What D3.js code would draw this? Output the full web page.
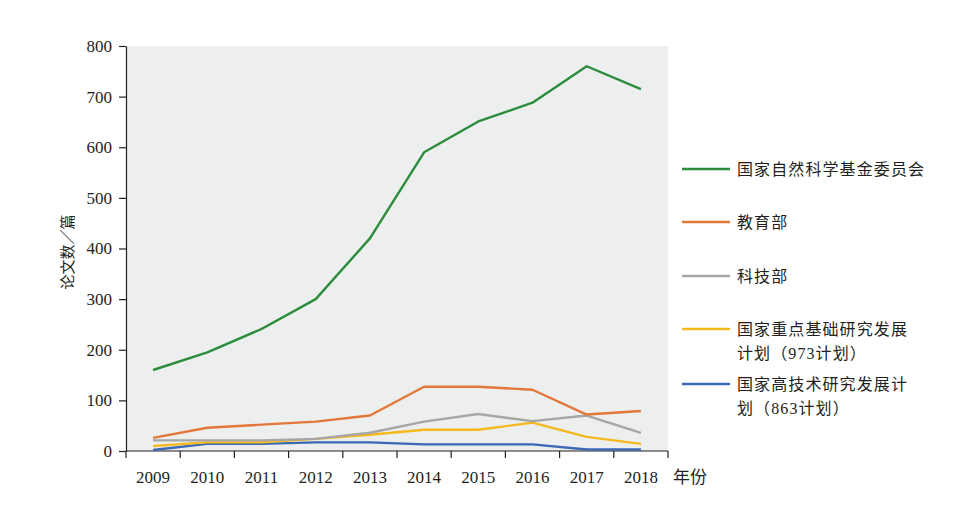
<!DOCTYPE html>
<html><head><meta charset="utf-8">
<script src="https://cdn.jsdelivr.net/npm/d3@7/dist/d3.min.js"></script>
<style>
body{margin:0;background:#fff;}
text{font-family:"Liberation Serif","Noto Sans CJK SC",serif;}
</style></head>
<body><svg id="c" width="963" height="509"></svg>
<script>
const years = ["2009","2010","2011","2012","2013","2014","2015","2016","2017","2018"];
const yTicks = [0,100,200,300,400,500,600,700,800];
const nsfc = [160,195,241,300,420,590,651,688,760,715];
const moe = [26,46,52,58,70,127,127,121,72,79];
const most = [21,21,21,24,36,58,73,59,70,36];
const p973 = [10,17,17,24,32,42,42,56,28,14];
const p863 = [2,14,14,17,17,13,13,13,3,3];
const seriesNames = ["国家自然科学基金委员会","教育部","科技部","国家重点基础研究发展\n计划（973计划）","国家高技术研究发展计\n划（863计划）"];
const seriesColors = ["#2b8c3c","#e3773a","#a6a6a6","#f4b91f","#3c69b3"];
const seriesData = [nsfc, moe, most, p973, p863];

const svg = d3.select("#c");
const L=126, R=668, T=46, B=451;
const x = d3.scaleBand().domain(years).range([L,R]);
const y = d3.scaleLinear().domain([0,800]).range([B,T]);

svg.append("rect").attr("x",L).attr("y",T).attr("width",R-L).attr("height",B-T).attr("fill","#edefee");

// y axis
const ya = svg.append("g").attr("transform",`translate(${L},0)`)
  .call(d3.axisLeft(y).tickValues(yTicks).tickSize(7).tickSizeOuter(0).tickPadding(7));
ya.selectAll("path,line").attr("stroke","#231f20").attr("stroke-width",1.2);
ya.selectAll("text").attr("font-size",17).attr("fill","#231f20").attr("font-family","Liberation Serif");

// x axis labels
const xa = svg.append("g").attr("transform",`translate(0,${B})`)
  .call(d3.axisBottom(x).tickSize(0).tickPadding(20).tickSizeOuter(0));
xa.select("path").remove();
xa.selectAll("text").attr("font-size",17).attr("fill","#231f20").attr("font-family","Liberation Serif");
// x axis line and boundary ticks
const bounds = years.map(d=>x(d)).concat([R]);
svg.append("line").attr("x1",L).attr("x2",R).attr("y1",B).attr("y2",B).attr("stroke","#231f20").attr("stroke-width",1.2);
svg.selectAll(".bt").data(bounds).enter().append("line")
  .attr("x1",d=>d).attr("x2",d=>d).attr("y1",B).attr("y2",B+7).attr("stroke","#231f20").attr("stroke-width",1.2);

svg.append("text").attr("x",673).attr("y",483).attr("font-size",17).attr("fill","#231f20").text("年份");
svg.append("text").attr("transform","translate(73,252) rotate(-90)").attr("text-anchor","middle")
  .attr("font-size",15).attr("fill","#231f20").text("论文数／篇");

// lines
const line = d3.line().x((d,i)=>x(years[i])+x.bandwidth()/2).y(d=>y(d));
seriesData.slice().reverse().forEach((s,ri)=>{
  const i = seriesData.length-1-ri;
  svg.append("path").datum(s).attr("d",line).attr("fill","none")
    .attr("stroke",seriesColors[i]).attr("stroke-width",2.4).attr("stroke-linejoin","round");
});

// legend
const legY = [169,222,276,329,384];
seriesNames.forEach((n,i)=>{
  const g = svg.append("g");
  g.append("line").attr("x1",682).attr("x2",730).attr("y1",legY[i]).attr("y2",legY[i])
    .attr("stroke",seriesColors[i]).attr("stroke-width",2.6);
  const t = g.append("text").attr("x",737).attr("y",legY[i]+6).attr("font-size",16)
    .attr("letter-spacing",1.1).attr("fill","#231f20");
  n.split("\n").forEach((ln,j)=>{
    t.append("tspan").attr("x",737).attr("dy",j===0?0:24).text(ln);
  });
});
</script></body></html>
